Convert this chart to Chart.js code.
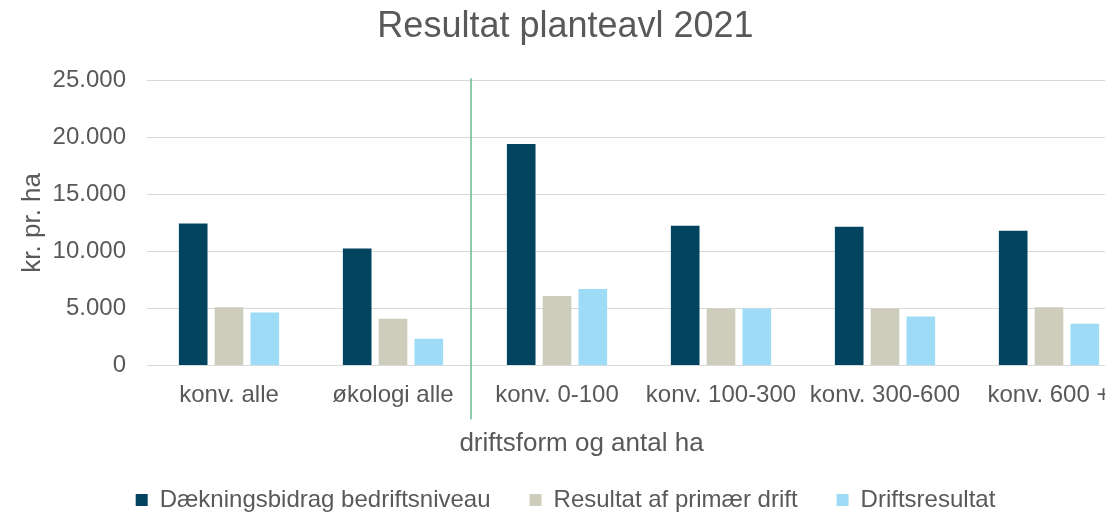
<!DOCTYPE html>
<html lang="da">
<head>
<meta charset="utf-8">
<title>Resultat planteavl 2021</title>
<script src="https://cdn.jsdelivr.net/npm/chart.js@4.4.1/dist/chart.umd.min.js"></script>
<style>
  html, body { margin: 0; padding: 0; background: #fff; overflow: hidden; }
  #wrap { width: 1131px; height: 522px; }
</style>
</head>
<body>
<div id="wrap"><canvas id="chart" width="1131" height="522"></canvas></div>
<script>
// chart data
const categories = ["konv. alle", "økologi alle", "konv. 0-100", "konv. 100-300", "konv. 300-600", "konv. 600 +"];
const daekningsbidrag = [12450, 10250, 19400, 12250, 12150, 11800];
const primaerDrift = [5100, 4100, 6100, 5000, 5000, 5100];
const driftsresultat = [4650, 2350, 6700, 5000, 4300, 3650];
const seriesNames = ["Dækningsbidrag bedriftsniveau", "Resultat af primær drift", "Driftsresultat"];
const yTicks = [0, 5000, 10000, 15000, 20000, 25000];

const TEXT = "#595959";
Chart.defaults.font.family = "'Liberation Sans', Arial, sans-serif";
Chart.defaults.color = TEXT;

// dots as thousands separator, like the Danish original
const fmt = v => String(v).replace(/\B(?=(\d{3})+(?!\d))/g, ".");

// green separator between the "alle" groups and the size groups,
// plus the x axis title which sits left of the plot centre in the original
const extras = {
  id: "extras",
  afterDraw(chart) {
    const { ctx, chartArea, scales: { x } } = chart;
    const sepX = (x.getPixelForValue(1) + x.getPixelForValue(2)) / 2 - 4;
    ctx.save();
    ctx.strokeStyle = "#6db88e";
    ctx.lineWidth = 1.5;
    ctx.beginPath();
    ctx.moveTo(sepX, chartArea.top - 2);
    ctx.lineTo(sepX, chartArea.bottom + 54);
    ctx.stroke();

    ctx.fillStyle = TEXT;
    ctx.font = "26px 'Liberation Sans', Arial, sans-serif";
    ctx.textAlign = "center";
    ctx.textBaseline = "middle";
    ctx.fillText("driftsform og antal ha", chart.width / 2 + 16, 444);
    ctx.restore();
  }
};

new Chart(document.getElementById("chart"), {
  type: "bar",
  data: {
    labels: categories,
    datasets: [
      { label: seriesNames[0], data: daekningsbidrag, backgroundColor: "#02445f" },
      { label: seriesNames[1], data: primaerDrift, backgroundColor: "#cecdbc" },
      { label: seriesNames[2], data: driftsresultat, backgroundColor: "#9ddbf7" },
    ]
  },
  options: {
    responsive: false,
    animation: false,
    devicePixelRatio: 1,
    categoryPercentage: 0.655,
    barPercentage: 0.8,
    layout: { padding: 0 },
    plugins: {
      tooltip: { enabled: false },
      title: {
        display: true,
        text: "Resultat planteavl 2021",
        color: TEXT,
        font: { size: 36, weight: "normal" },
        padding: { top: 5, bottom: 32 }
      },
      legend: {
        position: "bottom",
        labels: {
          boxWidth: 12,
          boxHeight: 12,
          padding: 39,
          color: TEXT,
          font: { size: 24 }
        }
      }
    },
    scales: {
      x: {
        grid: { display: false, drawTicks: false },
        border: { display: false },
        ticks: { padding: 15, font: { size: 24 }, color: TEXT, maxRotation: 0, autoSkip: false },
        afterFit: s => { s.height = 83.5; }
      },
      y: {
        min: 0,
        max: yTicks[yTicks.length - 1],
        afterBuildTicks: s => { s.ticks = yTicks.map(v => ({ value: v })); },
        grid: { color: "#d9d9d9", lineWidth: 1, drawTicks: false },
        border: { display: false },
        ticks: { padding: 21, font: { size: 24 }, color: TEXT, callback: v => fmt(v) },
        title: {
          display: true,
          text: "kr. pr. ha",
          color: TEXT,
          font: { size: 26 },
          padding: { top: 17, bottom: 0 }
        },
        afterFit: s => { s.width = 147; }
      }
    }
  },
  plugins: [extras]
});
</script>
</body>
</html>
